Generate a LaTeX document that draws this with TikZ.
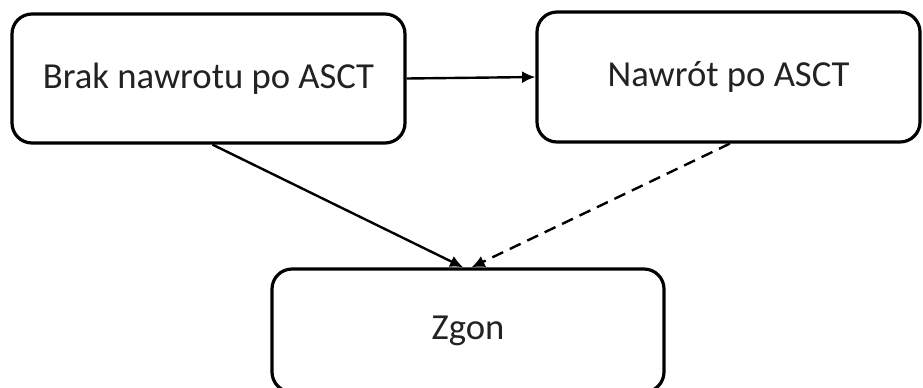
\documentclass[tikz,border=0pt]{standalone}
\usepackage{fontspec}
\setmainfont{Carlito}
\usetikzlibrary{arrows.meta}
\definecolor{txt}{HTML}{222222}
\tikzset{
  box/.style={draw=black, line width=2.4pt, rounded corners=15pt, fill=white,
    text=txt, font=\fontsize{27.5}{33}\selectfont, inner sep=0pt},
  conn/.style={line width=1.8pt, -{Latex[length=10pt,width=9pt]}},
  dconn/.style={conn, dash pattern=on 9pt off 5.5pt}
}
\begin{document}
\begin{tikzpicture}[x=0.75pt,y=-0.75pt]
\useasboundingbox (0,0) rectangle (923,387);
\node[box, minimum width=294.75pt, minimum height=96.75pt] (A) at (208.5,78.5) {Brak nawrotu po ASCT};
\node[box, minimum width=287.25pt, minimum height=97.5pt] (B) at (728.5,77) {Nawrót po ASCT};
\node[box, minimum width=294pt, minimum height=92.25pt] (C) at (468,330.5) {Zgon};
\draw[conn] (A.east) -- (B.west);
\draw[conn] ([xshift=3pt]A.south) -- ([xshift=-3.5pt]C.north);
\draw[dconn] ([xshift=1pt]B.south) -- ([xshift=2.5pt]C.north);
\end{tikzpicture}
\end{document}
